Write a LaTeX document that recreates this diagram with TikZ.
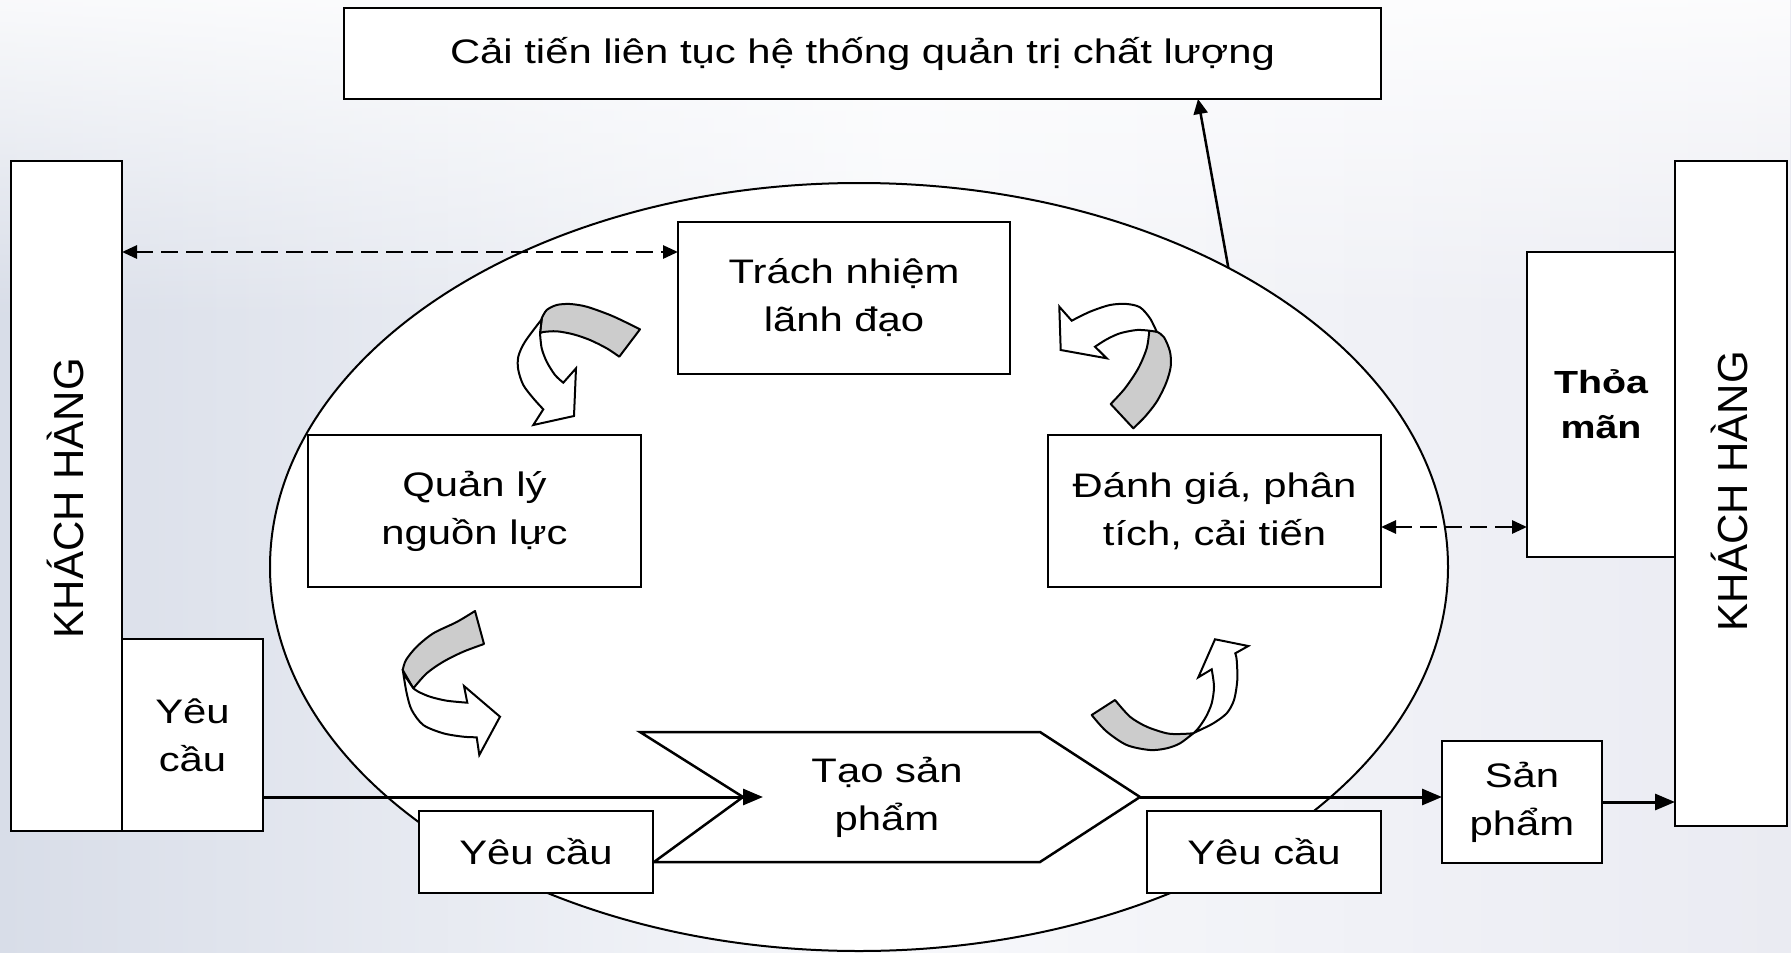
\documentclass[tikz,border=0pt]{standalone}
\usepackage{fontspec}
\setmainfont[FakeStretch=1.23]{Liberation Sans}
\newfontfamily\rotfont{Liberation Sans}
\usetikzlibrary{arrows.meta,shapes.geometric,fadings}
\definecolor{bgL}{RGB}{216,221,232}
\definecolor{bgM}{RGB}{247,248,251}
\definecolor{bgR}{RGB}{234,235,242}
\definecolor{arrgray}{RGB}{204,204,204}
\tikzset{
  box/.style={draw=black, fill=white, line width=2.5pt, inner sep=0pt, outer sep=0pt,
    align=center, font=\fontsize{34}{48}\selectfont},
  rottext/.style={rotate=90, anchor=base, inner sep=0pt, font=\rotfont\fontsize{42}{48}\selectfont},
  plaintext/.style={align=center, inner sep=0pt, font=\fontsize{34}{48}\selectfont},
  dasharrow/.style={line width=2.8pt, dash pattern=on 17pt off 8pt,
    {Triangle[length=15pt,width=13pt]}-{Triangle[length=15pt,width=13pt]}},
  flowarrow/.style={line width=3pt, -{Triangle[length=20pt,width=16pt]}},
  uparrow/.style={line width=2.5pt, -{Triangle[length=15pt,width=14pt]}},
  backband/.style={draw=black, fill=arrgray, line width=2pt, line join=round},
  frontband/.style={draw=black, fill=white, line width=2pt, line join=miter},
}
\begin{document}
\begin{tikzpicture}[x=1pt,y=-1pt]
\useasboundingbox (0,0) rectangle (1791,953);
\shade[left color=bgL, right color=bgR, middle color=bgM] (0,0) rectangle (1791,953);
\fill[white, fill opacity=0.85, path fading=south] (0,0) rectangle (1791,320);

% central ellipse
\node[ellipse, draw=black, fill=white, line width=2pt, minimum width=1178pt, minimum height=768pt,
      inner sep=0pt, outer sep=0pt] (ell) at (859,567) {};

% top box
\node[box, minimum width=1037pt, minimum height=91pt] (top) at (862.5,53.5)
  {Cải tiến liên tục hệ thống quản trị chất lượng};

% left customer
\node[box, minimum width=111pt, minimum height=670pt] (khL) at (66.5,496) {};
\node[rottext] (khLt) at (83,498) {KHÁCH HÀNG};
\node[box, minimum width=141pt, minimum height=192pt] (ycL) at (192.5,735) {Yêu\\cầu};

% right customer
\node[box, minimum width=112pt, minimum height=665pt] (khR) at (1731,493.5) {};
\node[rottext] (khRt) at (1747,491) {KHÁCH HÀNG};
\node[box, minimum width=148pt, minimum height=305pt, font=\bfseries\fontsize{32}{45}\selectfont]
  (tm) at (1601,404.5) {Thỏa\\mãn};

% inner process boxes
\node[box, minimum width=332pt, minimum height=152pt] (trach) at (844,298) {Trách nhiệm\\lãnh đạo};
\node[box, minimum width=333pt, minimum height=152pt] (ql) at (474.5,511) {Quản lý\\nguồn lực};
\node[box, minimum width=333pt, minimum height=152pt] (dg) at (1214.5,511) {Đánh giá, phân\\tích, cải tiến};

% product realization chevron
\coordinate (notch) at (743,797);
\coordinate (chevtip) at (1140,797);
\coordinate (intip) at (763,797);
\draw[fill=white, line width=2.5pt, line join=miter]
  (640,732) -- (1040,732) -- (chevtip) -- (1040,862) -- (654,862) -- (notch) -- cycle;
\node[plaintext] (tao) at (887,797) {Tạo sản\\phẩm};

\draw[flowarrow] (ycL.east |- notch) -- (intip);

% requirement boxes at bottom
\node[box, minimum width=234pt, minimum height=82pt] (ycB1) at (536,852) {Yêu cầu};
\node[box, minimum width=234pt, minimum height=82pt] (ycB2) at (1264,852) {Yêu cầu};

% product box
\node[box, minimum width=160pt, minimum height=122pt] (sp) at (1522,802) {Sản\\phẩm};
\draw[flowarrow] (chevtip) -- (chevtip -| sp.west);
\draw[flowarrow] (sp.east) -- (sp.east -| khR.west);

% dashed links
\coordinate (d1) at (0,252);
\coordinate (d2) at (0,527);
\draw[dasharrow] (khL.east |- d1) -- (trach.west |- d1);
\draw[dasharrow] (dg.east |- d2) -- (tm.west |- d2);

% improvement arrow
\coordinate (upx) at (1198,0);
\draw[uparrow] (ell.39) -- (top.south -| upx);

% curved arrow A (top left)
\path[backband] plot[smooth] coordinates {(541.7,318.3) (546.7,310) (556.7,305) (570,304) (586.7,306.7) (610,315) (626.7,322.7) (640,329.3)}
  -- (619.3,356.7)
  -- plot[smooth] coordinates {(619.3,356.7) (606.7,348.3) (590,340) (573.3,334.3) (556.7,331.3) (543.3,332) (540,333.3)} -- cycle;
\path[frontband] plot[smooth] coordinates {(541.7,319.3) (525,341.7) (518.3,356.7) (518.3,370) (523.3,385) (533.3,398.3) (543.3,409.3)}
  -- (533.3,425) -- (574,416) -- (576,368.3) -- (563.3,382.7)
  -- plot[smooth] coordinates {(563.3,382.7) (555,375) (546.7,361.7) (541.7,348.3) (540,333.3)} -- cycle;

% curved arrow B (top right)
\path[backband] plot[smooth] coordinates {(1149.3,330.7) (1156.7,331.7) (1164,337.3) (1170,351.7) (1170.7,366.7) (1166,383.3) (1156.7,401.7) (1145,416.7) (1133.3,428.3)}
  -- (1110.7,404)
  -- plot[smooth] coordinates {(1110.7,404) (1125,388.3) (1138.3,368.3) (1146.7,348.3) (1149.3,330.7)} -- cycle;
\path[frontband] plot[smooth] coordinates {(1149.3,330.7) (1136.7,330) (1120,333.3) (1106.7,339.3) (1095,346.7)}
  -- (1106.7,358.3) -- (1060.7,350) -- (1059.3,306.7) -- (1071.7,320.7)
  -- plot[smooth] coordinates {(1071.7,320.7) (1090,311.7) (1110,305) (1126.7,304) (1140,307.3) (1150,318.3) (1156.7,331.7)} -- cycle;

% curved arrow C (bottom left)
\path[backband] plot[smooth] coordinates {(475,611) (456.7,622) (433.3,633.3) (416.7,646.7) (406,660) (402.7,670)}
  -- (413.3,688.3)
  -- plot[smooth] coordinates {(413.3,688.3) (426.7,673.3) (443.3,661.7) (463.3,651.7) (484,644)} -- cycle;
\path[frontband] plot[smooth] coordinates {(403.3,673.3) (406.7,693.3) (411.7,710) (423.3,725) (443.3,733.3) (463.3,736.7) (476.7,737.3)}
  -- (479.3,755) -- (500,716.7) -- (464,686) -- (467.3,702.7)
  -- plot[smooth] coordinates {(467.3,702.7) (446.7,700.7) (430,696.7) (418.3,691.7) (413.3,688.3)} -- cycle;

% curved arrow D (bottom right)
\path[backband] plot[smooth] coordinates {(1091.7,715) (1106,731) (1126.7,745) (1150,750) (1166.7,748.3) (1180,743.3) (1193.3,733.3)}
  -- plot[smooth] coordinates {(1193.3,733.3) (1180,734) (1166.7,733.3) (1146.7,726.7) (1130,716.7) (1115,700)} -- cycle;
\path[frontband] plot[smooth] coordinates {(1193.3,733.3) (1200,730) (1213.3,723.3) (1226.7,713.3) (1234,700) (1237.3,680) (1236.7,660) (1235.3,653.3)}
  -- (1248.3,646) -- (1215,639.3) -- (1198.3,677.3) -- (1211.7,669.3)
  -- plot[smooth] coordinates {(1211.7,669.3) (1214,686.7) (1211.7,703.3) (1206,716.7) (1198.3,728.3) (1193.3,733.3)} -- cycle;
\end{tikzpicture}
\end{document}
